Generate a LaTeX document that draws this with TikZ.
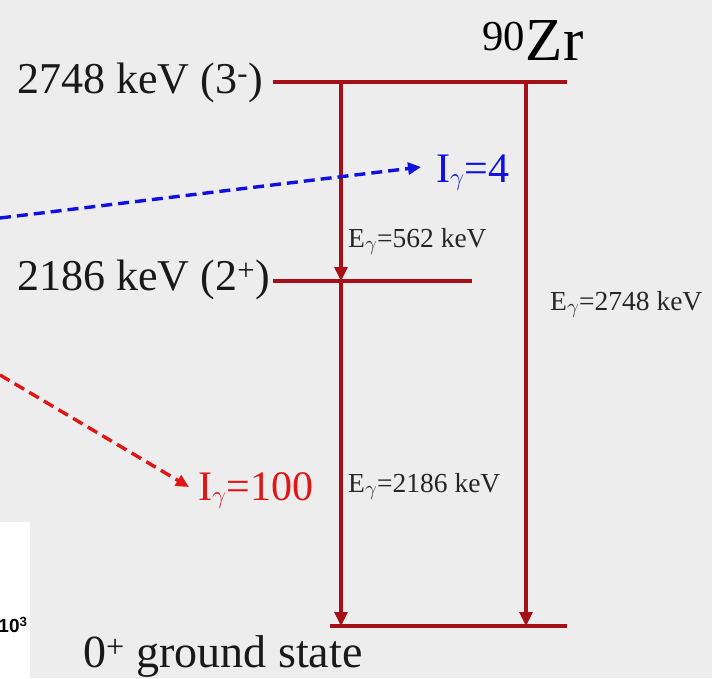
\documentclass[tikz,border=0pt]{standalone}
\usepackage{fontspec}
\setmainfont{Liberation Serif}
\setsansfont{Liberation Sans}
\usetikzlibrary{arrows.meta}
\definecolor{bgc}{HTML}{EDEDED}
\definecolor{lvl}{HTML}{A50F15}
\definecolor{iblue}{HTML}{1010E0}
\definecolor{ired}{HTML}{E01515}
\tikzset{
  level/.style={draw=lvl, line width=3.2pt},
  trans/.style={draw=lvl, line width=3.1pt, -{Triangle[length=14pt,width=13pt]}},
  lvllabel/.style={font=\fontsize{44}{44}\selectfont, inner sep=0pt, text=black!90},
  elabel/.style={font=\fontsize{27.5}{27.5}\selectfont, inner sep=0pt, text=black!85},
  ilabel/.style={font=\fontsize{42}{42}\selectfont, inner sep=0pt},
  feed/.style={line width=3.4pt, dash pattern=on 11pt off 6pt, -{Triangle[length=13pt,width=12pt]}},
}
\begin{document}
\begin{tikzpicture}[x=1pt,y=-1pt]
\fill[bgc] (0,0) rectangle (712,678);
\useasboundingbox (0,0) rectangle (712,678);
% plot fragment
\fill[white] (0,522) rectangle (30,678);
\node[font=\sffamily\bfseries\fontsize{19}{19}\selectfont, inner sep=0pt] (tick) at (13,625) {10\textsuperscript{3}};
% title
\node[font=\fontsize{61}{61}\selectfont, inner sep=0pt, anchor=base] (zr) at (533,60) {\textsuperscript{90}Zr};
% level coordinates
\coordinate (l3a) at (273,82);
\coordinate (l3b) at (567,82);
\coordinate (l2a) at (273,281);
\coordinate (l2b) at (472,281);
\coordinate (l0a) at (330,626);
\coordinate (l0b) at (567,626);
\coordinate (t1s) at (341,82);
\coordinate (t1e) at (341,281);
\coordinate (t2e) at (341,626);
\coordinate (t3s) at (526,82);
\coordinate (t3e) at (526,626);
\draw[level] (l3a) -- (l3b);
\draw[level] (l2a) -- (l2b);
\draw[level] (l0a) -- (l0b);
\draw[trans] (t1s) -- (t1e);
\draw[trans] (t1e) -- (t2e);
\draw[trans] (t3s) -- (t3e);
% level labels
\node[lvllabel, anchor=base east] (lab3) at (263,93) {2748 keV (3\textsuperscript{-})};
\node[lvllabel, anchor=base east] (lab2) at (270,290) {2186 keV (2\textsuperscript{+})};
\node[lvllabel, font=\fontsize{46}{46}\selectfont, anchor=base west] (lab0) at (83,667) {0\textsuperscript{+} ground state};
% energy labels
\node[elabel, anchor=base west] (e1) at (348,247) {E\textsubscript{$\gamma$}=562 keV};
\node[elabel, anchor=base west] (e2) at (348,492) {E\textsubscript{$\gamma$}=2186 keV};
\node[elabel, anchor=base west] (e3) at (550,310) {E\textsubscript{$\gamma$}=2748 keV};
% intensities
\node[ilabel, text=iblue, anchor=base west] (i4) at (436,182) {I\textsubscript{$\gamma$}=4};
\node[ilabel, text=ired, anchor=base west] (i100) at (198,500) {I\textsubscript{$\gamma$}=100};
\coordinate (bstart) at (0,218);
\coordinate (bend) at (421,167);
\coordinate (rstart) at (0,375);
\coordinate (rend) at (189,487);
\draw[feed, iblue] (bstart) -- (bend);
\draw[feed, ired] (rstart) -- (rend);
\end{tikzpicture}
\end{document}
